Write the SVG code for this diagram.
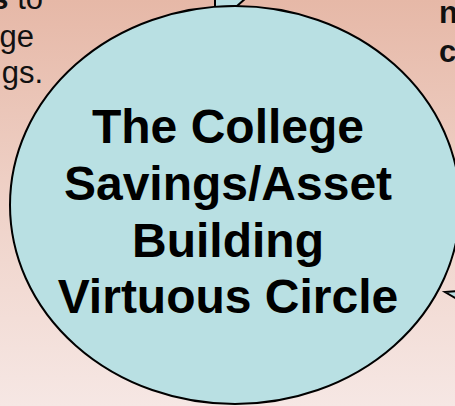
<svg xmlns="http://www.w3.org/2000/svg" width="455" height="406" viewBox="0 0 455 406">
  <defs>
    <linearGradient id="bg" x1="0" y1="0" x2="0" y2="1">
      <stop offset="0" stop-color="#E6B8A7"/>
      <stop offset="0.5" stop-color="#EFD2C8"/>
      <stop offset="1" stop-color="#F6E7E4"/>
    </linearGradient>
  </defs>
  <style>
    .shape { fill: #B9E0E3; stroke: #000; stroke-width: 2; }
    .side { font-family: "Liberation Sans", Arial, sans-serif; font-size: 31px; fill: #111; }
    .bold { font-weight: bold; }
    .title { font-family: "Liberation Sans", Arial, sans-serif; font-size: 48px; font-weight: bold; fill: #000; text-anchor: middle; }
  </style>

  <rect width="455" height="406" fill="url(#bg)"/>

  <!-- side captions, running off the canvas edges -->
  <g id="left-caption" class="side" text-anchor="end">
    <text x="43" y="9"><tspan class="bold">s</tspan> to</text>
    <text x="34" y="47">ge</text>
    <text x="43" y="83">gs.</text>
  </g>
  <g id="right-caption" class="side bold">
    <text x="439" y="23">n</text>
    <text x="439" y="62">c</text>
  </g>

  <!-- connectors: arrow tips meeting the circle -->
  <g id="connectors">
    <polygon class="shape" points="215,-2 215,7 237,6 246,-2"/>
    <polygon class="shape" points="457,291 445,292 457,299"/>
  </g>

  <!-- central node -->
  <g id="virtuous-circle">
    <ellipse class="shape" cx="235" cy="205" rx="225" ry="199"/>
    <text class="title" x="228" y="143">The College</text>
    <text class="title" x="228" y="200">Savings/Asset</text>
    <text class="title" x="228" y="257">Building</text>
    <text class="title" x="228" y="313">Virtuous Circle</text>
  </g>
</svg>
